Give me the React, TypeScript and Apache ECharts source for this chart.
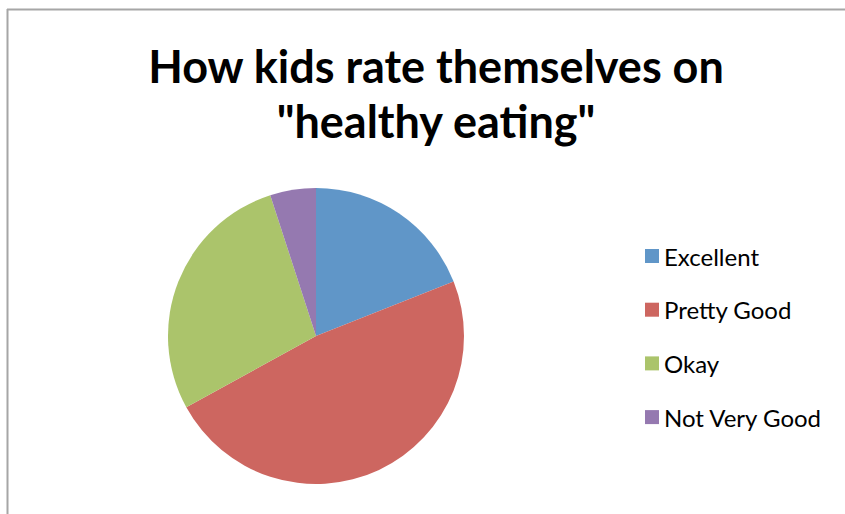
import React, { useEffect, useRef } from "react";
import * as echarts from "echarts";

const categories = ["Excellent", "Pretty Good", "Okay", "Not Very Good"];
const values = [19, 48, 28, 5];
const colors = ["#6096C8", "#CD6660", "#ABC46B", "#9579B0"];
const titleText = 'How kids rate themselves on\n"healthy eating"';

export default function App() {
  const ref = useRef<HTMLDivElement>(null);
  useEffect(() => {
    if (!ref.current) return;
    const chart = echarts.init(ref.current, null, { renderer: "svg" });
    chart.setOption({
      animation: false,
      backgroundColor: "#ffffff",
      title: {
        text: titleText,
        left: 431,
        textAlign: "center",
        top: 33,
        textStyle: {
          fontFamily: "Lato",
          fontWeight: "bold",
          fontSize: 45,
          lineHeight: 55,
          color: "#000000",
        },
      },
      legend: {
        orient: "vertical",
        left: 640,
        top: 239,
        itemWidth: 14,
        itemHeight: 14,
        itemGap: 29.7,
        icon: "rect",
        data: categories,
        textStyle: {
          fontFamily: "Lato",
          fontSize: 24,
          lineHeight: 24,
          color: "#000000",
        },
      },
      graphic: [
        {
          type: "line",
          shape: { x1: 7, y1: 9.5, x2: 845, y2: 9.5 },
          style: { stroke: "#A6A6A6", lineWidth: 2 },
        },
        {
          type: "line",
          shape: { x1: 7.5, y1: 9, x2: 7.5, y2: 514 },
          style: { stroke: "#A6A6A6", lineWidth: 2 },
        },
      ],
      series: [
        {
          type: "pie",
          center: [316, 336],
          radius: 148,
          startAngle: 90,
          clockwise: true,
          label: { show: false },
          labelLine: { show: false },
          emphasis: { disabled: true },
          itemStyle: { borderWidth: 0 },
          data: categories.map((name, i) => ({
            name,
            value: values[i],
            itemStyle: { color: colors[i] },
          })),
        },
      ],
    });
    return () => chart.dispose();
  }, []);
  return (
    <div
      ref={ref}
      style={{ position: "fixed", left: 0, top: 0, width: 845, height: 514 }}
    />
  );
}
